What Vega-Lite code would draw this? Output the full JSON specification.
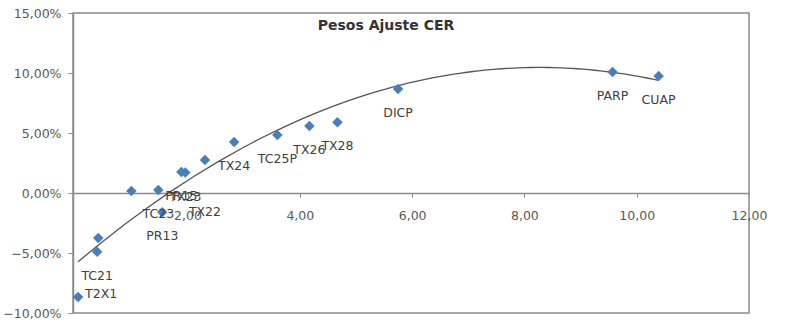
{
  "$schema": "https://vega.github.io/schema/vega-lite/v6.json",
  "width": 676,
  "height": 300,
  "autosize": "none",
  "padding": {"left": 73, "top": 13, "right": 51, "bottom": 23},
  "background": "white",
  "config": {
    "view": {"stroke": "#8c8c8c", "strokeWidth": 1.5},
    "font": "DejaVu Sans"
  },
  "title": {
    "text": "Pesos Ajuste CER",
    "fontSize": 14,
    "fontWeight": "bold",
    "font": "DejaVu Sans",
    "color": "#333333",
    "offset": -26,
    "dx": -25
  },
  "data": {
    "values": [
      {"x": 0.05, "y": -8.67, "label": "T2X1"},
      {"x": 0.39, "y": -4.9, "label": "TC21"},
      {"x": 0.41, "y": -3.75, "label": ""},
      {"x": 1.0, "y": 0.17, "label": ""},
      {"x": 1.48, "y": 0.25, "label": "TC23"},
      {"x": 1.55, "y": -1.6, "label": "PR13"},
      {"x": 1.89, "y": 1.75, "label": "PR15"},
      {"x": 1.96, "y": 1.7, "label": "TX23"},
      {"x": 2.31, "y": 2.75, "label": "TX22"},
      {"x": 2.83, "y": 4.25, "label": "TX24"},
      {"x": 3.6, "y": 4.83, "label": "TC25P"},
      {"x": 4.17, "y": 5.58, "label": "TX26"},
      {"x": 4.67, "y": 5.9, "label": "TX28"},
      {"x": 5.75, "y": 8.67, "label": "DICP"},
      {"x": 9.57, "y": 10.08, "label": "PARP"},
      {"x": 10.39, "y": 9.75, "label": "CUAP"}
    ]
  },
  "encoding": {
    "x": {
      "field": "x",
      "type": "quantitative",
      "scale": {"domain": [-0.04, 12], "nice": false, "zero": false},
      "axis": {
        "title": null,
        "offset": -120,
        "values": [2, 4, 6, 8, 10, 12],
        "labelExpr": "replace(format(datum.value, '.2f'), '.', ',')",
        "grid": false,
        "domainColor": "#8c8c8c",
        "domainWidth": 1.5,
        "tickColor": "#8c8c8c",
        "tickSize": 4,
        "labelPadding": 12,
        "labelFlush": false,
        "labelFont": "DejaVu Sans",
        "labelFontSize": 12.5,
        "labelColor": "#595959"
      }
    },
    "y": {
      "field": "y",
      "type": "quantitative",
      "scale": {"domain": [-10, 15], "nice": false, "zero": false},
      "axis": {
        "title": null,
        "values": [-10, -5, 0, 5, 10, 15],
        "labelExpr": "replace(format(datum.value, '.2f'), '.', ',') + '%'",
        "grid": false,
        "domainColor": "#8c8c8c",
        "domainWidth": 1.5,
        "tickColor": "#8c8c8c",
        "tickSize": 5,
        "labelPadding": 7,
        "labelFont": "DejaVu Sans",
        "labelFontSize": 12.5,
        "labelColor": "#595959"
      }
    }
  },
  "layer": [
    {
      "transform": [
        {"regression": "y", "on": "x", "method": "poly", "order": 2}
      ],
      "mark": {"type": "line", "color": "#555555", "strokeWidth": 1.3}
    },
    {
      "mark": {"type": "point", "shape": "diamond", "filled": true, "size": 110, "color": "#4a7ebb", "opacity": 1}
    },
    {
      "transform": [{"filter": "datum.label != 'T2X1' && datum.label != 'TX22'"}],
      "mark": {"type": "text", "dy": 24, "fontSize": 12.5, "font": "DejaVu Sans", "color": "#404040"},
      "encoding": {"text": {"field": "label"}}
    },
    {
      "transform": [{"filter": "datum.label == 'T2X1'"}],
      "mark": {"type": "text", "align": "left", "dx": 7, "dy": -3, "fontSize": 12.5, "font": "DejaVu Sans", "color": "#404040"},
      "encoding": {"text": {"field": "label"}}
    },
    {
      "transform": [{"filter": "datum.label == 'TX22'"}],
      "mark": {"type": "text", "dy": 52, "fontSize": 12.5, "font": "DejaVu Sans", "color": "#404040"},
      "encoding": {"text": {"field": "label"}}
    }
  ]
}
